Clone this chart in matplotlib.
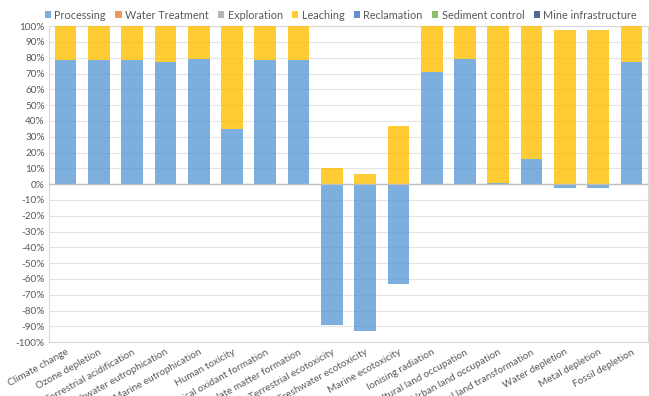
import matplotlib.pyplot as plt
import numpy as np
from matplotlib.ticker import FuncFormatter

categories = [
    "Climate change", "Ozone depletion", "Terrestrial acidification",
    "Freshwater eutrophication", "Marine eutrophication", "Human toxicity",
    "Photochemical oxidant formation", "Particulate matter formation",
    "Terrestrial ecotoxicity", "Freshwater ecotoxicity", "Marine ecotoxicity",
    "Ionising radiation", "Agricultural land occupation",
    "Urban land occupation", "Natural land transformation",
    "Water depletion", "Metal depletion", "Fossil depletion",
]

# Contribution shares (%) per life-cycle stage
processing = [78.5, 78.5, 78.5, 77, 79, 35, 78.5, 78.5, -89, -93, -63,
              71, 79, 0.7, 16, -2.5, -2.5, 77]
water_treatment = [0] * 18
exploration = [0] * 18
leaching = [21.5, 21.5, 21.5, 23, 21, 65, 21.5, 21.5, 10, 6.5, 36.5,
            29, 21, 99.3, 84, 97.5, 97.5, 23]
reclamation = [0] * 18
sediment_control = [0] * 18
mine_infrastructure = [0] * 18

series = [
    ("Processing", processing, "#5B9BD5"),
    ("Water Treatment", water_treatment, "#ED7D31"),
    ("Exploration", exploration, "#A5A5A5"),
    ("Leaching", leaching, "#FFC000"),
    ("Reclamation", reclamation, "#4472C4"),
    ("Sediment control", sediment_control, "#70AD47"),
    ("Mine infrastructure", mine_infrastructure, "#264478"),
]

plt.rcParams["font.family"] = ["Lato", "DejaVu Sans"]

fig = plt.figure(figsize=(6.49, 3.96), dpi=100)
ax = fig.add_axes([0.0755, 0.136, 0.923, 0.798])

x = np.arange(len(categories))
pos_base = np.zeros(len(categories))
neg_base = np.zeros(len(categories))
for name, vals, color in series:
    vals = np.array(vals, dtype=float)
    bottom = np.where(vals >= 0, pos_base, neg_base)
    ax.bar(x, vals, 0.65, bottom=bottom, color=color, alpha=0.8,
           label=name, zorder=3)
    pos_base += np.clip(vals, 0, None)
    neg_base += np.clip(vals, None, 0)

ax.set_xlim(-0.5, len(categories) - 0.5)
ax.set_ylim(-100, 100)
ax.set_yticks(np.arange(-100, 101, 10))
ax.yaxis.set_major_formatter(FuncFormatter(lambda v, _: f"{v:.0f}%"))
ax.grid(axis="y", color="#E3E3E3", linewidth=0.8, zorder=0)
ax.axhline(0, color="#BFBFBF", linewidth=1, zorder=4)
for s in ax.spines.values():
    s.set_color("#D9D9D9")
    s.set_linewidth(0.8)

ax.set_xticks(x)
ax.set_xticklabels(categories, rotation=29, ha="right",
                   rotation_mode="anchor", fontsize=7.2, color="#595959")
ax.tick_params(axis="y", labelsize=7.2, labelcolor="#595959", length=0, pad=3)
ax.tick_params(axis="x", length=0, pad=4)

fig.legend(loc="upper center", bbox_to_anchor=(0.525, 1.0), ncol=7,
           frameon=False, fontsize=7.8, handlelength=0.6, handleheight=0.6,
           handletextpad=0.3, columnspacing=0.85, labelcolor="#595959")

fig.savefig("out.png", dpi=100)
